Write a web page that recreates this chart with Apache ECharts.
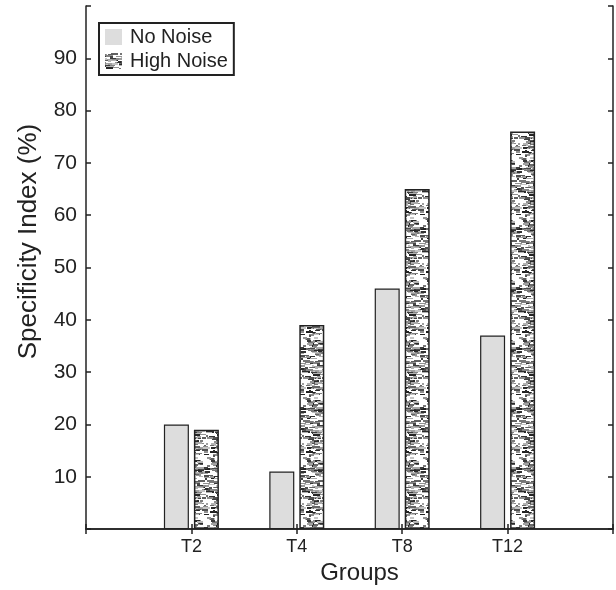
<!DOCTYPE html>
<html>
<head>
<meta charset="utf-8">
<script src="https://cdn.jsdelivr.net/npm/echarts@6/dist/echarts.min.js"></script>
<style>html,body{margin:0;padding:0;background:#fff;overflow:hidden;}#c{width:616px;height:590px;}</style>
</head>
<body>
<div id="c"></div>
<script>
var categories = ['T2', 'T4', 'T8', 'T12'];
var noNoise = [20, 11, 46, 37];
var highNoise = [19, 39, 65, 76];
var yTicks = [10, 20, 30, 40, 50, 60, 70, 80, 90];

// texture tile for the "High Noise" bars (deterministic)
function makePattern() {
  var W = 24, H = 60;
  var c = document.createElement('canvas');
  c.width = W; c.height = H;
  var g = c.getContext('2d');
  g.fillStyle = '#ffffff';
  g.fillRect(0, 0, W, H);
  var s = 98765;
  function r() { s = (s * 1103515245 + 12345) & 0x7fffffff; return s / 0x7fffffff; }
  for (var i = 0; i < 170; i++) {
    var x = Math.floor(r() * W), y = Math.floor(r() * H);
    var w = 2 + Math.floor(r() * 7);
    var h = 1 + Math.floor(r() * 2);
    var shade = Math.floor(30 + r() * 170);
    g.fillStyle = 'rgb(' + shade + ',' + shade + ',' + shade + ')';
    g.fillRect(x, y, w, h);
    if (x + w > W) g.fillRect(x - W, y, w, h);
  }
  return c;
}
var pat = makePattern();

var axisData = [''].concat(categories).concat(['']);
function pad(a) { return [null].concat(a).concat([null]); }

var FF = 'Liberation Sans, Arial, sans-serif';
var chart = echarts.init(document.getElementById('c'), null, {renderer: 'canvas'});
var lineStyle = {color: '#222', width: 1.5};
chart.setOption({
  animation: false,
  backgroundColor: '#fff',
  grid: {left: 86, right: 3, top: 6, bottom: 57, containLabel: false},
  legend: {
    left: 99, top: 23, orient: 'vertical',
    borderColor: '#222', borderWidth: 2, borderRadius: 0,
    padding: [4, 6, 4, 6], itemGap: 4,
    itemWidth: 17, itemHeight: 16, icon: 'rect',
    itemStyle: {borderWidth: 0},
    textStyle: {fontSize: 20, color: '#222', fontFamily: FF, padding: [0, 0, 0, 3]},
    data: ['No Noise', 'High Noise']
  },
  xAxis: [{
    type: 'category', data: axisData, boundaryGap: false, position: 'bottom',
    name: 'Groups', nameLocation: 'middle', nameGap: 31,
    nameTextStyle: {fontSize: 24, color: '#222', fontFamily: FF, padding: [0, 0, 0, 20]},
    axisLine: {lineStyle: lineStyle},
    axisTick: {inside: true, length: 5, lineStyle: lineStyle},
    axisLabel: {fontSize: 18, color: '#222', margin: 9, fontFamily: FF},
    splitLine: {show: false}
  }, {
    type: 'category', data: axisData, boundaryGap: false, position: 'top',
    axisLine: {lineStyle: lineStyle},
    axisTick: {inside: true, length: 5, lineStyle: lineStyle},
    axisLabel: {show: false}, splitLine: {show: false}
  }],
  yAxis: [{
    type: 'value', min: 0, max: 100, interval: 10, position: 'left',
    name: 'Specificity Index (%)', nameLocation: 'middle', nameGap: 44,
    nameTextStyle: {fontSize: 26, color: '#222', fontFamily: FF, padding: [0, 0, 0, 52]},
    axisLine: {show: true, lineStyle: lineStyle},
    axisTick: {show: true, inside: true, length: 5, lineStyle: lineStyle},
    axisLabel: {fontSize: 21, color: '#222', margin: 9, fontFamily: FF,
      formatter: function (v) { return yTicks.indexOf(v) >= 0 ? String(v) : ''; }},
    splitLine: {show: false}
  }, {
    type: 'value', min: 0, max: 100, interval: 10, position: 'right',
    axisLine: {show: true, lineStyle: lineStyle},
    axisTick: {show: true, inside: true, length: 5, lineStyle: lineStyle},
    axisLabel: {show: false}, splitLine: {show: false}
  }],
  series: [{
    name: 'No Noise', type: 'bar', data: pad(noNoise), barWidth: 25, barGap: '20%',
    itemStyle: {color: '#dddddd', borderColor: '#222', borderWidth: 1.2}
  }, {
    name: 'High Noise', type: 'bar', data: pad(highNoise), barWidth: 25, barGap: '20%',
    itemStyle: {color: {image: pat, repeat: 'repeat'}, borderColor: '#222', borderWidth: 1.5}
  }]
});
</script>
</body>
</html>
